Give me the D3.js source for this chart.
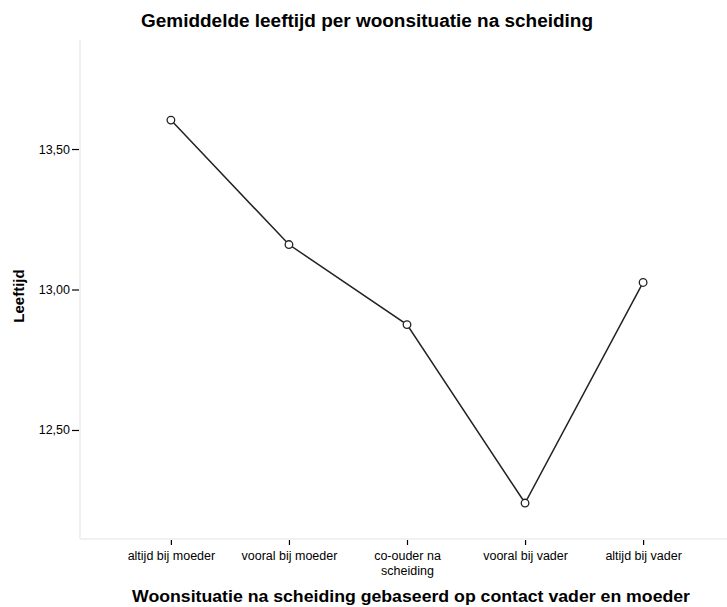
<!DOCTYPE html>
<html>
<head>
<meta charset="utf-8">
<script src="https://cdn.jsdelivr.net/npm/d3@7"></script>
<style>
  html, body { margin: 0; padding: 0; background: #fff; }
  text { font-family: Arial, "Liberation Sans", sans-serif; fill: #000; }
</style>
</head>
<body>
<div id="chart"></div>
<script>
// Data
const categories = ['altijd bij moeder', 'vooral bij moeder', 'co-ouder na scheiding', 'vooral bij vader', 'altijd bij vader'];
const meanAge = [13.603, 13.16, 12.875, 12.24, 13.025];
const yTicks = [12.5, 13.0, 13.5];

const width = 727, height = 607;
const margin = { top: 40, right: 0, bottom: 68, left: 80 };

const svg = d3.select('#chart').append('svg')
    .attr('width', width)
    .attr('height', height);

const nl = d3.formatLocale({ decimal: ',', thousands: '.', grouping: [3], currency: ['€', ''] });
const fmt = nl.format('.2f');

// Scales
const x = d3.scalePoint()
    .domain(categories)
    .range([margin.left, 734])
    .padding(0.77);

const y = d3.scaleLinear()
    .domain([12.112, 13.888])
    .range([height - margin.bottom, margin.top]);

// Axes frame (light grey)
svg.append('line')
    .attr('x1', margin.left).attr('x2', margin.left)
    .attr('y1', margin.top).attr('y2', height - margin.bottom)
    .attr('stroke', '#ececec').attr('stroke-width', 1.5);
svg.append('line')
    .attr('x1', margin.left).attr('x2', width)
    .attr('y1', height - margin.bottom).attr('y2', height - margin.bottom)
    .attr('stroke', '#ececec').attr('stroke-width', 1.5);

// Y axis
const yAxis = svg.append('g')
    .attr('transform', `translate(${margin.left - 1},0)`)
    .call(d3.axisLeft(y).tickValues(yTicks).tickFormat(fmt).tickSize(7).tickPadding(2));
yAxis.select('.domain').remove();
yAxis.selectAll('.tick line').attr('stroke', '#000').attr('stroke-width', 1.2);
yAxis.selectAll('.tick text').attr('font-size', 12.5).style('font-family', 'Arial, "Liberation Sans", sans-serif').attr('fill', '#111');

// X axis
const xAxis = svg.append('g')
    .attr('transform', `translate(0,${height - margin.bottom + 1})`)
    .call(d3.axisBottom(x).tickSize(5).tickPadding(6));
xAxis.select('.domain').remove();
xAxis.selectAll('.tick line').attr('stroke', '#000').attr('stroke-width', 1.2);
xAxis.selectAll('.tick text')
    .attr('font-size', 12.5)
    .style('font-family', 'Arial, "Liberation Sans", sans-serif')
    .attr('fill', '#111')
    .call(wrap, 110);

function wrap(sel, maxW) {
  sel.each(function() {
    const t = d3.select(this);
    const words = t.text().split(/\s+/);
    const dy = t.attr('dy');
    t.text(null);
    let line = [];
    let tspan = t.append('tspan').attr('x', 0).attr('dy', dy);
    words.forEach(w => {
      line.push(w);
      tspan.text(line.join(' '));
      if (tspan.node().getComputedTextLength() > maxW && line.length > 1) {
        line.pop();
        tspan.text(line.join(' '));
        line = [w];
        tspan = t.append('tspan').attr('x', 0).attr('dy', '1.17em').text(w);
      }
    });
  });
}

// Line
const line = d3.line()
    .x((d, i) => x(categories[i]))
    .y(d => y(d));

svg.append('path')
    .datum(meanAge)
    .attr('fill', 'none')
    .attr('stroke', '#222')
    .attr('stroke-width', 1.5)
    .attr('d', line);

svg.selectAll('circle.pt')
    .data(meanAge)
    .join('circle')
      .attr('class', 'pt')
      .attr('cx', (d, i) => x(categories[i]))
      .attr('cy', d => y(d))
      .attr('r', 3.8)
      .attr('fill', '#fff')
      .attr('stroke', '#222')
      .attr('stroke-width', 1.3);

// Titles
svg.append('text')
    .attr('x', 367).attr('y', 27)
    .attr('text-anchor', 'middle')
    .attr('font-size', 18)
    .attr('font-weight', 'bold')
    .attr('textLength', 452)
    .attr('lengthAdjust', 'spacingAndGlyphs')
    .text('Gemiddelde leeftijd per woonsituatie na scheiding');

svg.append('text')
    .attr('x', 411).attr('y', 602)
    .attr('text-anchor', 'middle')
    .attr('font-size', 16.5)
    .attr('font-weight', 'bold')
    .attr('textLength', 558)
    .attr('lengthAdjust', 'spacingAndGlyphs')
    .text('Woonsituatie na scheiding gebaseerd op contact vader en moeder');

svg.append('text')
    .attr('transform', 'translate(24,296) rotate(-90)')
    .attr('text-anchor', 'middle')
    .attr('font-size', 15)
    .attr('font-weight', 'bold')
    .text('Leeftijd');
</script>
</body>
</html>
